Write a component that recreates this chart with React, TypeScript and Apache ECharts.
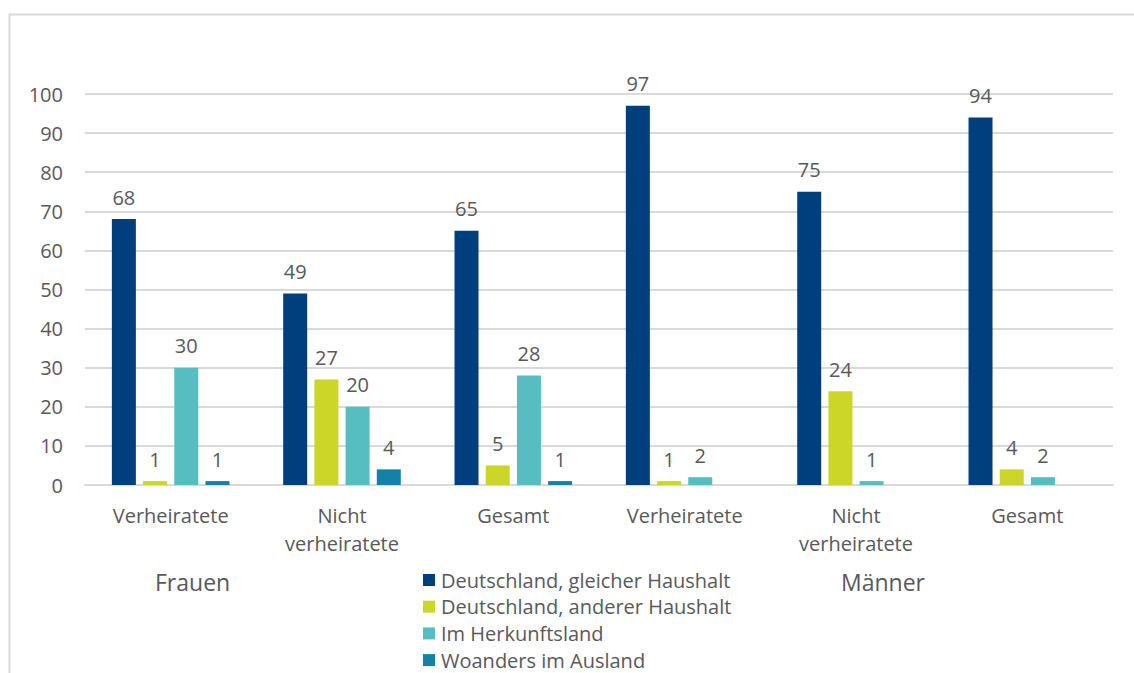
import React, { useEffect, useRef } from "react";
import * as echarts from "echarts";

const categories = ["Verheiratete", "Nicht\nverheiratete", "Gesamt", "Verheiratete", "Nicht\nverheiratete", "Gesamt"];
const seriesNames = [
  "Deutschland, gleicher Haushalt",
  "Deutschland, anderer Haushalt",
  "Im Herkunftsland",
  "Woanders im Ausland",
];
const gleicherHaushalt = [68, 49, 65, 97, 75, 94];
const andererHaushalt = [1, 27, 5, 1, 24, 4];
const herkunftsland = [30, 20, 28, 2, 1, 2];
const woandersAusland = [1, 4, 1, null, null, null];
const groupLabels = ["Frauen", "Männer"];
const colors = ["#003F7D", "#CBD629", "#56BEC0", "#1580A8"];

const FONT = "Open Sans";
const GRAY = "#595959";

export default function App() {
  const ref = useRef<HTMLDivElement>(null);
  useEffect(() => {
    const chart = echarts.init(ref.current!, null, { renderer: "svg" });
    const values = [gleicherHaushalt, andererHaushalt, herkunftsland, woandersAusland];
    chart.setOption({
      animation: false,
      backgroundColor: "#ffffff",
      textStyle: { fontFamily: FONT },
      grid: { left: 85, right: 21, top: 94, bottom: 188, containLabel: false },
      xAxis: {
        type: "category",
        data: categories,
        axisLine: { lineStyle: { color: "#d9d9d9", width: 2 } },
        axisTick: { show: false },
        axisLabel: { color: GRAY, fontSize: 20, fontFamily: FONT, margin: 16, lineHeight: 28 },
      },
      yAxis: {
        type: "value",
        min: 0,
        max: 100,
        interval: 10,
        axisLine: { show: false },
        axisTick: { show: false },
        axisLabel: { color: GRAY, fontSize: 20, fontFamily: FONT, margin: 22 },
        splitLine: { lineStyle: { color: "#d9d9d9", width: 2 } },
      },
      legend: seriesNames.map((name, i) => ({
        orient: "vertical",
        left: 423,
        top: 570 + i * 26.7,
        padding: 0,
        itemWidth: 12,
        itemHeight: 12,
        icon: "rect",
        data: [name],
        textStyle: { color: GRAY, fontSize: 20, fontFamily: FONT, padding: [0, 0, 0, 1], lineHeight: 18 },
      })),
      series: seriesNames.map((name, i) => ({
        name,
        type: "bar",
        data: values[i],
        barWidth: 24,
        barGap: "30%",
        itemStyle: { color: colors[i] },
        label: {
          show: true,
          position: "top",
          distance: 12,
          color: GRAY,
          fontSize: 20,
          fontFamily: FONT,
        },
      })),
      graphic: [
        {
          type: "rect",
          left: 7,
          top: 12,
          shape: { width: 1200, height: 720 },
          style: { fill: "none", stroke: "#d9d9d9", lineWidth: 2 },
          z: -10,
        },
        {
          type: "text",
          left: 155,
          top: 570,
          style: { text: groupLabels[0], fill: GRAY, fontSize: 23, fontFamily: FONT },
        },
        {
          type: "text",
          left: 841,
          top: 570,
          style: { text: groupLabels[1], fill: GRAY, fontSize: 23, fontFamily: FONT },
        },
      ],
    });
    return () => chart.dispose();
  }, []);
  return (
    <div
      ref={ref}
      style={{ position: "fixed", left: 0, top: 0, width: 1134, height: 673 }}
    />
  );
}
